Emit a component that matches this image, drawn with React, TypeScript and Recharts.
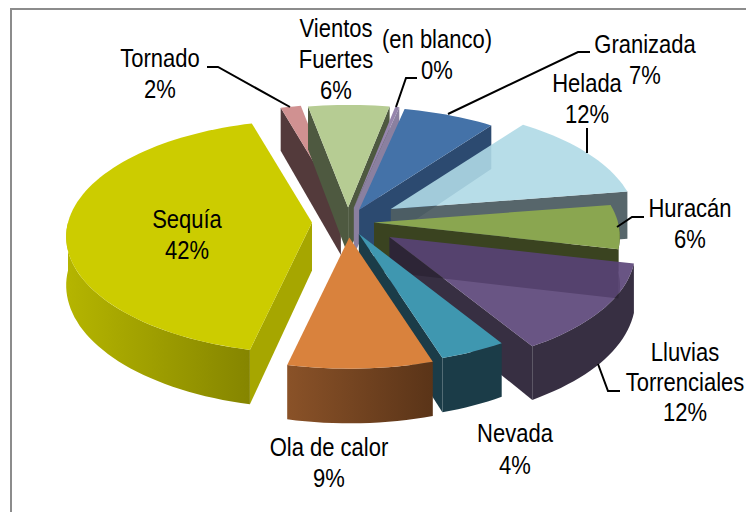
import React from "react";
import { PieChart, Pie } from "recharts";

// Data (clockwise, in paint order)
const categories = ["Tornado", "Vientos Fuertes", "(en blanco)", "Granizada", "Helada", "Huracán", "Lluvias Torrenciales", "Nevada", "Ola de calor", "Sequía"];
const values = [1.5, 6, 0.3, 6.8, 12.4, 6.1, 12.6, 3.9, 8.5, 42];
const percentLabels = ["2%", "6%", "0%", "7%", "12%", "6%", "12%", "4%", "9%", "42%"];
const labelLines = [["Tornado"], ["Vientos", "Fuertes"], ["(en blanco)"], ["Granizada"], ["Helada"], ["Huracán"], ["Lluvias", "Torrenciales"], ["Nevada"], ["Ola de calor"], ["Sequía"]];

// Styling
const explode = [31, 29, 29, 27, 50, 26, 51, 26, 31, 36];
const topColors = ["#D09191", "#B6CC93", "#9585AC", "#4472A8", "#AFD9E5", "#8AA650", "#594277", "#3F97B0", "#D9823D", "#CCCC00"];
const wallColors = ["#533A3B", "#4E5940", "#8A80A0", "#2C4A70", "#4E5E63", "#3A4320", "#2C2438", "#1B3C48", "#6E4020", "#A6A600"];
const faceOpacity = [1, 1, 1, 1, 0.9, 1, 0.9, 1, 1, 1];
const wallOpacity = [1, 1, 1, 1, 0.95, 1, 0.95, 1, 1, 1];
const wallGradients: (string[] | null)[] = [null, null, null, null, null, null, null, null, ["#8A5228", "#5A3418"], ["#B5B500", "#858500"]];
const labelX = [160, 336, 437, 645, 587, 690, 685, 515, 329, 187];
const labelY = [67, 37, 48, 53, 92, 217, 361, 442, 456, 228];
const lineGap = [31, 31, 31, 31, 31, 31, 30, 32, 31, 31];
const leaders: (number[][] | null)[] = [
  [[207, 67], [218, 67], [290, 107]],
  null,
  [[417, 78], [406, 78], [396, 107]],
  [[590, 52], [578, 52], [448, 114]],
  [[587, 128], [587, 153]],
  [[644, 217], [632, 217], [617, 227]],
  [[620, 391], [608, 391], [598, 364]],
  null, null, null,
];

const tableData = categories.map((name, i) => ({ name, value: values[i] }));

const CX = 348;
const CY = 222;
const R = 244;
const PERSP = 2000;
const KY = 0.472;
const KE = 0.5;
const DEPTH = 48;
const rad = (d: number) => (d * Math.PI) / 180;

function Slice(props: any) {
  const name = props.payload?.name ?? props.name;
  const i = categories.indexOf(name);
  const cx = props.cx as number, cy = props.cy as number, r = props.outerRadius as number;
  const t1 = 90 - props.startAngle, t2 = 90 - props.endAngle;
  const tm = (t1 + t2) / 2;
  const ax = cx + explode[i] * Math.sin(rad(tm));
  const ay = cy - KE * explode[i] * Math.cos(rad(tm));
  const pt = (t: number) => {
    const z = r * Math.cos(rad(t));
    const s = PERSP / (PERSP + z);
    return { x: ax + r * Math.sin(rad(t)) * s, y: ay - KY * r * Math.cos(rad(t)) * s, d: DEPTH * s };
  };
  const arc = (a: number, b: number) => {
    const out = [];
    const n = Math.max(2, Math.ceil(Math.abs(b - a) / 2));
    for (let k = 0; k <= n; k++) out.push(pt(a + ((b - a) * k) / n));
    return out;
  };
  const fmt = (pts: { x: number; y: number }[]) => pts.map((p) => `${p.x.toFixed(1)},${p.y.toFixed(1)}`).join(" ");
  const rim = arc(t1, t2);
  const top = [{ x: ax, y: ay }, ...rim];
  const radial = (t: number) => {
    const p = pt(t);
    return [{ x: ax, y: ay }, { x: p.x, y: p.y }, { x: p.x, y: p.y + p.d }, { x: ax, y: ay + DEPTH }];
  };
  const walls: React.ReactNode[] = [];
  if (Math.sin(rad(t1)) < 0) walls.push(<polygon key="w1" points={fmt(radial(t1))} fill={wallColors[i]} fillOpacity={wallOpacity[i]} />);
  if (Math.sin(rad(t2)) > 0) walls.push(<polygon key="w2" points={fmt(radial(t2))} fill={wallColors[i]} fillOpacity={wallOpacity[i]} />);
  const a = Math.max(t1, 90), b = Math.min(t2, 270);
  const gradId = `wallGrad${i}`;
  const grad = wallGradients[i];
  if (b > a) {
    const f = arc(a, b);
    const poly = [...f, ...[...f].reverse().map((p: any) => ({ x: p.x, y: p.y + p.d }))];
    walls.push(<polygon key="w3" points={fmt(poly)} fill={grad ? `url(#${gradId})` : wallColors[i]} fillOpacity={wallOpacity[i]} />);
  }
  return (
    <g>
      {grad && (
        <defs>
          <linearGradient id={gradId} x1="0" y1="0" x2="1" y2="0">
            <stop offset="0" stopColor={grad[0]} />
            <stop offset="1" stopColor={grad[1]} />
          </linearGradient>
        </defs>
      )}
      {walls}
      <polygon points={fmt(top)} fill={topColors[i]} fillOpacity={faceOpacity[i]} />
    </g>
  );
}

function SliceLabel(props: any) {
  const i = categories.indexOf(props.payload?.name ?? props.name);
  if (i < 0) return null;
  const lines = [...labelLines[i], percentLabels[i]];
  const leader = leaders[i];
  return (
    <g>
      {leader && (
        <polyline points={leader.map((p) => p.join(",")).join(" ")} fill="none" stroke="#000" strokeWidth={2} />
      )}
      {lines.map((t, k) => (
        <text
          key={k}
          transform={`translate(${labelX[i]},${labelY[i] + k * lineGap[i]}) scale(0.88,1)`}
          textAnchor="middle"
          fontFamily="'Liberation Sans', Arial, sans-serif"
          fontSize={25}
          fill="#000"
        >
          {t}
        </text>
      ))}
    </g>
  );
}

export default function App() {
  return (
    <div style={{ position: "absolute", left: 0, top: 0, width: 746, height: 512, overflow: "hidden", background: "#fff" }}>
      <div style={{ position: "absolute", left: 10, top: 8, width: 760, height: 520, borderLeft: "2px solid #8C8C8C", borderTop: "2px solid #8C8C8C" }} />
      <div style={{ position: "absolute", left: 0, top: 0 }}>
        <PieChart width={746} height={512} margin={{ top: 0, right: 0, bottom: 0, left: 0 }}>
          <Pie
            data={tableData}
            dataKey="value"
            nameKey="name"
            cx={CX}
            cy={CY}
            innerRadius={0}
            outerRadius={R}
            startAngle={106}
            endAngle={-254}
            stroke="none"
            isAnimationActive={false}
            shape={(p: any) => <Slice {...p} />}
            label={(p: any) => <SliceLabel {...p} />}
            labelLine={false}
          />
        </PieChart>
      </div>
    </div>
  );
}
